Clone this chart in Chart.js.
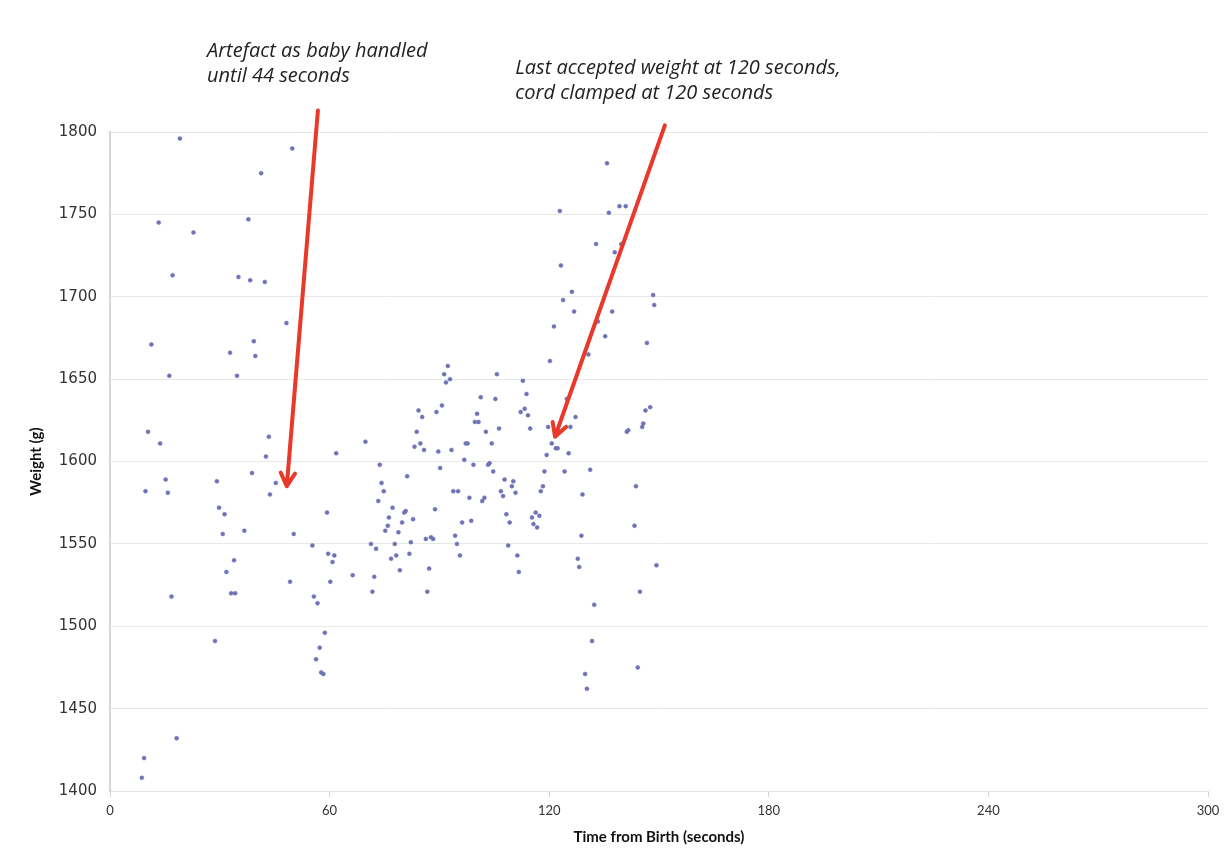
<!DOCTYPE html>
<html>
<head>
<meta charset="utf-8">
<script src="https://cdn.jsdelivr.net/npm/chart.js@4.4.1/dist/chart.umd.min.js"></script>
<style>
  html, body { margin: 0; padding: 0; background: #fff; }
  #wrap { width: 1230px; height: 859px; }
</style>
</head>
<body>
<div id="wrap"><canvas id="myChart" width="1230" height="859"></canvas></div>
<script>
// time from birth (seconds) of every weighing
const timeSec = [
  19.1, 13.3, 22.8, 17.1, 35.1, 11.3, 32.8, 16.2, 34.7, 10.4, 13.7, 15.2, 9.7, 15.8, 29.2,
  29.8, 31.3, 30.8, 33.9, 31.8, 33.1, 34.2, 16.8, 28.7, 18.2, 9.3, 8.7,
  49.8, 41.3, 37.8, 38.3, 42.3, 48.2, 39.3, 39.7, 43.4, 42.6, 61.8, 38.8, 45.3, 43.7, 59.3,
  36.7, 50.2, 55.3, 59.6, 61.3, 60.8, 49.2, 60.2, 55.7, 56.7, 58.7, 57.3, 56.3, 57.7, 58.3,
  92.3, 91.3, 92.9, 91.8, 90.7, 84.3, 85.3, 89.2, 83.8, 83.2, 84.8, 85.8, 89.7, 93.3, 69.8,
  73.7, 81.2, 90.2, 74.2, 74.8, 93.8, 95.1, 73.3, 77.2, 80.4, 80.8, 88.8, 76.2, 79.8, 82.8,
  75.9, 75.2, 78.8, 94.3, 86.3, 87.7, 88.3, 71.3, 72.7, 77.8, 82.2, 94.8, 95.6, 76.8, 78.2,
  81.8, 66.3, 72.2, 79.2, 87.2, 71.7, 86.7,
  120.2, 105.7, 112.8, 113.8, 101.3, 105.3, 113.3, 100.3, 112.2, 114.2, 100.7, 99.7, 106.3,
  114.8, 119.7, 102.7, 97.2, 97.7, 104.3, 120.7, 121.8, 122.3, 119.3, 96.8, 99.3, 103.7,
  103.3, 104.7, 118.7, 107.8, 110.2, 109.8, 118.3, 106.8, 110.8, 117.7, 107.4, 98.2, 102.3,
  101.7, 108.3, 109.2, 115.3, 116.3, 117.3, 115.7, 116.7, 96.2, 98.7, 108.8, 111.3, 111.7,
  135.8, 122.9, 136.3, 139.2, 140.9, 132.8, 139.7, 137.9, 123.2, 126.2, 123.8, 126.8, 137.2,
  148.4, 148.7, 121.3, 133.3, 135.3, 146.7, 130.7, 124.8, 127.2, 125.8, 147.6, 146.3, 145.7,
  145.4, 141.6, 141.2, 125.3, 124.2, 131.2, 143.7, 129.1, 143.3, 128.8, 127.8, 128.2, 149.3,
  144.8, 132.3, 131.7, 144.2, 129.8, 130.3
];

// weight reading (g) for each time above
const weightG = [
  1796, 1745, 1739, 1713, 1712, 1671, 1666, 1652, 1652, 1618, 1611, 1589, 1582, 1581, 1588,
  1572, 1568, 1556, 1540, 1533, 1520, 1520, 1518, 1491, 1432, 1420, 1408,
  1790, 1775, 1747, 1710, 1709, 1684, 1673, 1664, 1615, 1603, 1605, 1593, 1587, 1580, 1569,
  1558, 1556, 1549, 1544, 1543, 1539, 1527, 1527, 1518, 1514, 1496, 1487, 1480, 1472, 1471,
  1658, 1653, 1650, 1648, 1634, 1631, 1627, 1630, 1618, 1609, 1611, 1607, 1606, 1607, 1612,
  1598, 1591, 1596, 1587, 1582, 1582, 1582, 1576, 1572, 1569, 1570, 1571, 1566, 1563, 1565,
  1561, 1558, 1557, 1555, 1553, 1554, 1553, 1550, 1547, 1550, 1551, 1550, 1543, 1541, 1543,
  1544, 1531, 1530, 1534, 1535, 1521, 1521,
  1661, 1653, 1649, 1641, 1639, 1638, 1632, 1629, 1630, 1628, 1624, 1624, 1620,
  1620, 1621, 1618, 1611, 1611, 1611, 1611, 1608, 1608, 1604, 1601, 1598, 1599,
  1598, 1594, 1594, 1589, 1588, 1585, 1585, 1582, 1581, 1582, 1579, 1578, 1578,
  1576, 1568, 1563, 1566, 1569, 1567, 1562, 1560, 1563, 1564, 1549, 1543, 1533,
  1781, 1752, 1751, 1755, 1755, 1732, 1732, 1727, 1719, 1703, 1698, 1691, 1691,
  1701, 1695, 1682, 1685, 1676, 1672, 1665, 1638, 1627, 1621, 1633, 1631, 1623,
  1621, 1619, 1618, 1605, 1594, 1595, 1585, 1580, 1561, 1555, 1541, 1536, 1537,
  1521, 1513, 1491, 1475, 1471, 1462
];

// axis ticks
const xTicks = [0, 60, 120, 180, 240, 300];
const yTicks = [1400, 1450, 1500, 1550, 1600, 1650, 1700, 1750, 1800];

// annotation text and arrows (in data units: seconds, grams)
const noteText = [
  ["Artefact as baby handled", "until 44 seconds"],
  ["Last accepted weight at 120 seconds,", "cord clamped at 120 seconds"]
];
const noteStartSec = [26.5, 110.7];
const arrowFrom = [[56.8, 1813], [151.6, 1804]];
const arrowTo = [[48.3, 1585], [121.6, 1615]];

const points = timeSec.map((t, i) => ({ x: t, y: weightG[i] }));

// plugin:: draw the red arrows and italic notes
const notesPlugin = {
  id: "notes",
  afterDatasetsDraw(chart) {
    const { ctx, scales } = chart;
    const xs = scales.x;
    const ys = scales.y;

    ctx.save();
    // arrows
    ctx.strokeStyle = "#e8392b";
    ctx.lineWidth = 4;
    ctx.lineCap = "round";
    ctx.lineJoin = "round";
    arrowFrom.forEach((from, i) => {
      const x1 = xs.getPixelForValue(from[0]);
      const y1 = ys.getPixelForValue(from[1]);
      const x2 = xs.getPixelForValue(arrowTo[i][0]);
      const y2 = ys.getPixelForValue(arrowTo[i][1]);
      const ang = Math.atan2(y2 - y1, x2 - x1);
      const head = 15;
      ctx.beginPath();
      ctx.moveTo(x1, y1);
      ctx.lineTo(x2, y2);
      ctx.moveTo(x2 - head * Math.cos(ang - 0.5), y2 - head * Math.sin(ang - 0.5));
      ctx.lineTo(x2, y2);
      ctx.lineTo(x2 - head * Math.cos(ang + 0.5), y2 - head * Math.sin(ang + 0.5));
      ctx.stroke();
    });

    // notes
    ctx.fillStyle = "#222";
    ctx.font = "italic 20px 'Open Sans', sans-serif";
    ctx.textBaseline = "middle";
    ctx.textAlign = "left";
    const top = chart.chartArea.top;
    noteText.forEach((lines, i) => {
      const x = xs.getPixelForValue(noteStartSec[i]);
      const y0 = i === 0 ? top - 81 : top - 64;
      lines.forEach((line, j) => ctx.fillText(line, x, y0 + j * 25));
    });
    ctx.restore();
  },
};

new Chart(document.getElementById("myChart"), {
  type: "scatter",
  data: {
    datasets: [
      {
        data: points,
        backgroundColor: "#6e72b6",
        borderColor: "rgba(110,114,182,0.5)",
        borderWidth: 1,
        pointRadius: 2,
      },
    ],
  },
  options: {
    responsive: false,
    animation: false,
    devicePixelRatio: 1,
    layout: { padding: { top: 132, right: 22, left: 0, bottom: 0 } },
    plugins: { legend: { display: false }, tooltip: { enabled: false } },
    scales: {
      x: {
        type: "linear",
        min: 0,
        max: 300,
        afterBuildTicks: (s) => { s.ticks = xTicks.map((v) => ({ value: v })); },
        afterFit: (s) => { s.height = 68; },
        ticks: {
          color: "#333",
          font: { family: "Lato, sans-serif", size: 13 },
          padding: 6,
          callback: (v) => String(v),
        },
        grid: {
          drawOnChartArea: false,
          drawTicks: true,
          tickLength: 6,
          color: "#d4d4d4",
        },
        border: { color: "#e2e2e2", width: 1 },
        title: {
          display: true,
          text: "Time from Birth (seconds)",
          color: "#111",
          font: { family: "Lato, sans-serif", size: 15, weight: "bold" },
          padding: { top: 4, bottom: 13 },
        },
      },
      y: {
        min: 1400,
        max: 1800,
        afterBuildTicks: (s) => { s.ticks = yTicks.map((v) => ({ value: v })); },
        afterFit: (s) => { s.width = 110; },
        ticks: {
          color: "#333",
          font: { family: "DejaVu Sans, sans-serif", size: 15 },
          padding: 13,
          callback: (v) => String(v),
        },
        grid: { color: "#e8e8e8", drawTicks: false },
        border: { color: "#d6d6d6", width: 2 },
        title: {
          display: true,
          text: "Weight (g)",
          color: "#111",
          font: { family: "Lato, sans-serif", size: 15, weight: "bold" },
          padding: { top: 27, bottom: 0 },
        },
      },
    },
  },
  plugins: [notesPlugin],
});
</script>
</body>
</html>
